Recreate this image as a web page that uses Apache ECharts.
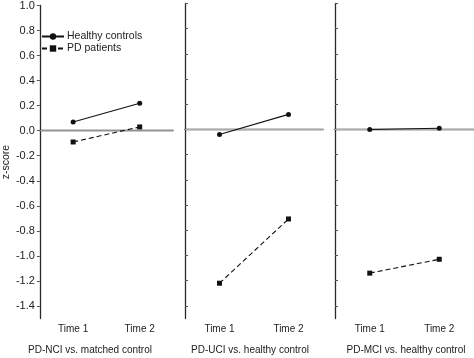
<!DOCTYPE html>
<html><head><meta charset="utf-8">
<script src="https://cdn.jsdelivr.net/npm/echarts@6/dist/echarts.min.js"></script>
<style>html,body{margin:0;padding:0;background:#fff}#c{width:474px;height:358px}</style>
</head><body><div id="c"></div>
<script>
var categories = ['Time 1', 'Time 2'];
var panelTitles = ['PD-NCI vs. matched control', 'PD-UCI vs. healthy control', 'PD-MCI vs. healthy control'];
var healthyControls = [[0.07, 0.22], [-0.04, 0.12], [0.00, 0.01]];
var pdPatients = [[-0.09, 0.03], [-1.22, -0.71], [-1.14, -1.03]];
var yTicks = [-1.4, -1.2, -1.0, -0.8, -0.6, -0.4, -0.2, 0.0, 0.2, 0.4, 0.6, 0.8, 1.0];
var referenceLevel = 0;
var seriesNames = ['Healthy controls', 'PD patients'];

var FONT = 'Liberation Sans, Arial, sans-serif';
var gridLefts = [34, 185, 335];
var gridWidths = [139, 138, 139];
var titleCenters = [90, 250, 406];
var axisColor = '#2a2a2a';

var grids = [], xAxes = [], yAxes = [], series = [], graphics = [];
for (var i = 0; i < 3; i++) {
  grids.push({left: gridLefts[i], width: gridWidths[i], top: 3.5, height: 315});
  xAxes.push({
    type: 'category', gridIndex: i, data: categories, boundaryGap: true,
    axisLine: {lineStyle: {color: axisColor, width: 1.3}},
    axisTick: {alignWithLabel: true, inside: true, length: 3, lineStyle: {color: '#555'}},
    axisLabel: {color: '#222', fontSize: 10, fontFamily: FONT, margin: 6},
    splitLine: {show: false}
  });
  yAxes.push({
    type: 'value', gridIndex: i, min: -1.5, max: 1.0,
    name: i === 0 ? 'z-score' : '', nameLocation: 'middle', nameGap: 25,
    nameTextStyle: {color: '#222', fontSize: 10.5, fontFamily: FONT},
    axisLine: {show: true, lineStyle: {color: axisColor, width: 1.3}},
    axisTick: {show: true, inside: i !== 0, length: 3, customValues: yTicks, lineStyle: {color: '#555'}},
    axisLabel: {show: i === 0, customValues: yTicks, color: '#222', fontSize: 11, fontFamily: FONT, margin: 5,
      formatter: function (v) { return v.toFixed(1); }},
    splitLine: {show: false}
  });
}
// hidden value x-axes (0..1) for the zero reference line spanning each panel
for (var j = 0; j < 3; j++) {
  xAxes.push({type: 'value', gridIndex: j, min: 0, max: 1, show: false});
}
for (var k = 0; k < 3; k++) {
  series.push({
    type: 'line', xAxisIndex: 3 + k, yAxisIndex: k, silent: true,
    data: [[0, referenceLevel], [1, referenceLevel]], symbol: 'none',
    lineStyle: {color: '#bcbcbc', width: 0.9}, z: 1, animation: false
  });
  series.push({
    name: seriesNames[0], type: 'line', xAxisIndex: k, yAxisIndex: k,
    data: healthyControls[k], symbol: 'circle', symbolSize: 5,
    itemStyle: {color: '#111'}, lineStyle: {color: '#111', width: 1.1, type: 'solid'},
    animation: false, z: 3
  });
  series.push({
    name: seriesNames[1], type: 'line', xAxisIndex: k, yAxisIndex: k,
    data: pdPatients[k], symbol: 'rect', symbolSize: 5,
    itemStyle: {color: '#111'}, lineStyle: {color: '#111', width: 1.1, type: [5, 3]},
    animation: false, z: 3
  });
  graphics.push({
    type: 'text', x: titleCenters[k], y: 350,
    style: {text: panelTitles[k], fill: '#222', font: '10px ' + FONT, textAlign: 'center', textVerticalAlign: 'middle'}
  });
}

var chart = echarts.init(document.getElementById('c'), null, {renderer: 'canvas'});
chart.setOption({
  animation: false,
  backgroundColor: '#fff',
  grid: grids, xAxis: xAxes, yAxis: yAxes, series: series,
  legend: {
    data: seriesNames, orient: 'vertical', left: 36, top: 26, itemGap: 1,
    itemWidth: 22, itemHeight: 8,
    textStyle: {color: '#222', fontSize: 10.5, fontFamily: FONT, padding: [0, 0, 0, -2]}
  },
  graphic: graphics
});
</script></body></html>
